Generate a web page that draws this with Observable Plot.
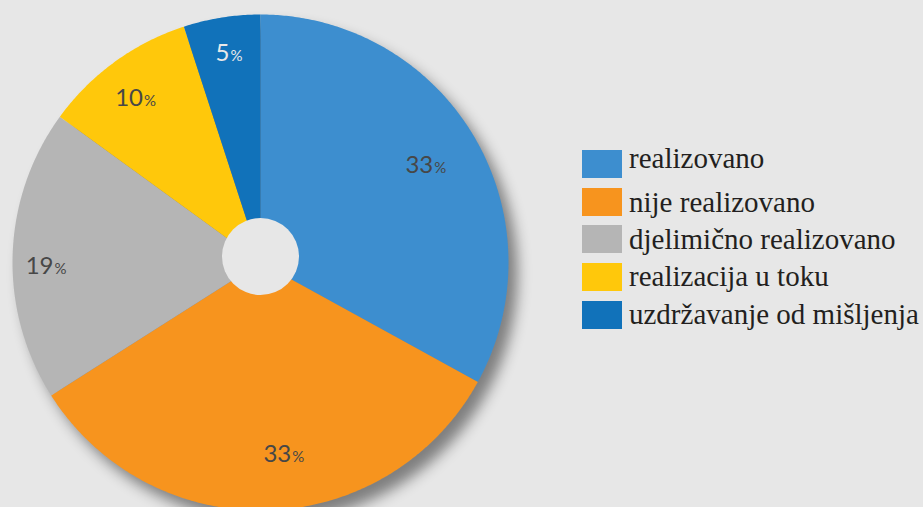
<!DOCTYPE html>
<html>
<head>
<meta charset="utf-8">
<script src="https://cdn.jsdelivr.net/npm/d3@7"></script>
<script src="https://cdn.jsdelivr.net/npm/@observablehq/plot@0.6"></script>
<style>
  html, body { margin: 0; padding: 0; background: #e7e7e7; }
  #wrap { position: relative; width: 923px; height: 507px; overflow: hidden; background: #e7e7e7; }
  #wrap svg { position: absolute; left: 0; top: 0; }
</style>
</head>
<body>
<div id="wrap"></div>
<script>
// ---- data ----
const categories = ["realizovano", "nije realizovano", "djelimično realizovano", "realizacija u toku", "uzdržavanje od mišljenja"];
const values = [33, 33, 19, 10, 5];
const colors = ["#3d8ecf", "#f7941e", "#b5b5b5", "#ffc80b", "#1172ba"];
const labelColors = ["#474747", "#474747", "#474747", "#474747", "#e9e9e9"];

// ---- layout constants ----
const R = 248;                       // pixel radius
const labelK = [0.772, 0.776, 0.867, 0.833, 0.855];
const labelShiftDeg = [0, -5, -2.6, -1.4, 1];
const bg = "#e7e7e7";

const arcs = d3.pie().sort(null).value(d => d)(values);

// slice outlines (polar -> cartesian in data units)
const pts = [];
arcs.forEach((a, i) => {
  const name = categories[i];
  pts.push({name, x: 0, y: 0});
  const n = Math.max(4, Math.ceil((a.endAngle - a.startAngle) / (Math.PI / 360)));
  for (let j = 0; j <= n; j++) {
    const t = a.startAngle + (a.endAngle - a.startAngle) * j / n;
    pts.push({name, x: Math.sin(t), y: Math.cos(t)});
  }
  pts.push({name, x: 0, y: 0});
});

// labels
const labels = arcs.map((a, i) => {
  const mid = (a.startAngle + a.endAngle) / 2 + labelShiftDeg[i] * Math.PI / 180;
  const cx = labelK[i] * Math.sin(mid);
  const cy = labelK[i] * Math.cos(mid);
  const off = values[i] >= 10 ? 8 : -1.5;       // junction between number and "%"
  return {num: String(values[i]), pct: "%", color: labelColors[i],
          x: cx + off / R, y: cy - 8 / R};
});

const chart = Plot.plot({
  width: 923,
  height: 507,
  margin: 0,
  x: {domain: [-1, 1], range: [12, 508], axis: null},
  y: {domain: [-1, 1], range: [510, 14], axis: null},
  color: {domain: categories, range: colors},
  style: {background: "transparent", fontFamily: "Lato, sans-serif"},
  marks: [
    Plot.line(pts, {x: "x", y: "y", z: "name", fill: "name", stroke: "none", curve: "linear"}),
    Plot.dot([{x: 0, y: 0.024}], {x: "x", y: "y", r: 38.5, fill: bg, stroke: "none"}),
    Plot.text(labels, {x: "x", y: "y", text: "num", fill: "color", textAnchor: "end", lineAnchor: "bottom",
                       fontSize: 24, fontFamily: "Lato, sans-serif"}),
    Plot.text(labels, {x: "x", y: "y", text: "pct", fill: "color", textAnchor: "start", lineAnchor: "bottom",
                       fontSize: 15, fontFamily: "Lato, sans-serif", dx: 1})
  ]
});
d3.select(chart).select('g[aria-label="line"]').style("filter", "drop-shadow(9px 11px 7px rgba(0,0,0,0.45))");
document.getElementById("wrap").appendChild(chart);

// legend (overlay)
const swatchTop = [150, 188, 225, 263, 301];
const textBase = [168, 212, 249, 286, 324];
const leg = d3.select("#wrap").append("svg")
  .attr("width", 923).attr("height", 507)
  .style("pointer-events", "none");
categories.forEach((c, i) => {
  leg.append("rect").attr("x", 582).attr("y", swatchTop[i]).attr("width", 40).attr("height", 28).attr("fill", colors[i]);
  leg.append("text").attr("x", 629).attr("y", textBase[i])
    .attr("font-family", "'Liberation Serif', serif").attr("font-size", 29).attr("fill", "#231f20")
    .text(c);
});
</script>
</body>
</html>
